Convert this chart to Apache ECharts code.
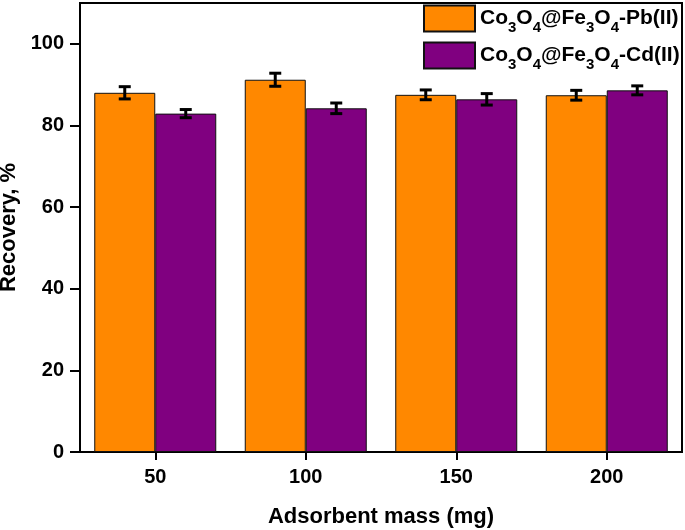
<!DOCTYPE html>
<html>
<head>
<meta charset="utf-8">
<script src="https://cdn.jsdelivr.net/npm/echarts@6/dist/echarts.min.js"></script>
<style>html,body{margin:0;padding:0;background:#fff;}#c{width:685px;height:530px;}</style>
</head>
<body>
<div id="c"></div>
<script>
// Data
var masses = [50, 100, 150, 200];
var seriesNames = ['Co3O4@Fe3O4-Pb(II)', 'Co3O4@Fe3O4-Cd(II)'];
var pbRecovery = [88.0, 91.2, 87.5, 87.4];
var pbError = [1.5, 1.6, 1.2, 1.2];
var cdRecovery = [82.9, 84.2, 86.4, 88.6];
var cdError = [1.0, 1.3, 1.4, 1.1];
var xTicks = [50, 100, 150, 200];
var yTicks = [0, 20, 40, 60, 80, 100];

var FONT = '"Liberation Sans", Arial, sans-serif';
var BAR_W = 61;

function pairs(xs, ys) { return xs.map(function (x, i) { return [x, ys[i]]; }); }
function errData(xs, ys, es) { return xs.map(function (x, i) { return [x, ys[i], es[i]]; }); }

function errRender(offset) {
  return function (params, api) {
    var x = api.value(0), y = api.value(1), e = api.value(2);
    var top = api.coord([x, y + e]);
    var bot = api.coord([x, y - e]);
    var cx = top[0] + offset;
    var half = 6;
    var st = { stroke: '#000', lineWidth: 3 };
    return {
      type: 'group',
      children: [
        { type: 'line', shape: { x1: cx, y1: top[1], x2: cx, y2: bot[1] }, style: st },
        { type: 'line', shape: { x1: cx - half, y1: top[1], x2: cx + half, y2: top[1] }, style: st },
        { type: 'line', shape: { x1: cx - half, y1: bot[1], x2: cx + half, y2: bot[1] }, style: st }
      ]
    };
  };
}

function legendFmt(name) {
  return name.replace(/([A-Za-z])(\d)/g, '$1{s|$2}');
}

var chart = echarts.init(document.getElementById('c'), null, { renderer: 'canvas' });
chart.setOption({
  animation: false,
  backgroundColor: '#fff',
  grid: { left: 80, right: 3, top: 3, bottom: 78, containLabel: false, outerBoundsMode: 'none', show: true, borderColor: '#000', borderWidth: 2, backgroundColor: 'transparent' },
  legend: {
    orient: 'vertical',
    left: 423, top: 2,
    padding: 0,
    itemGap: 4,
    itemWidth: 51, itemHeight: 26,
    icon: 'rect',
    data: seriesNames,
    formatter: legendFmt,
    textStyle: {
      fontFamily: FONT, fontWeight: 'bold', fontSize: 21, color: '#000', lineHeight: 24,
      rich: {
        s: { fontFamily: FONT, fontWeight: 'bold', fontSize: 15, color: '#000', lineHeight: 15, padding: [18, 0, 0, 0] }
      }
    }
  },
  xAxis: {
    type: 'value',
    min: 25, max: 225,
    name: 'Adsorbent mass (mg)',
    nameLocation: 'middle',
    nameGap: 54,
    nameTextStyle: { fontFamily: FONT, fontWeight: 'bold', fontSize: 22, color: '#000' },
    splitLine: { show: false },
    axisLine: { lineStyle: { color: '#000', width: 2 } },
    axisTick: { show: true, length: 8, lineStyle: { color: '#000', width: 2 }, customValues: xTicks },
    axisLabel: { fontFamily: FONT, fontWeight: 'bold', fontSize: 20, color: '#000', margin: 15, customValues: xTicks }
  },
  yAxis: {
    type: 'value',
    min: 0, max: 110,
    name: 'Recovery, %',
    nameLocation: 'middle',
    nameGap: 58,
    nameTextStyle: { fontFamily: FONT, fontWeight: 'bold', fontSize: 22, color: '#000' },
    splitLine: { show: false },
    axisLine: { show: true, lineStyle: { color: '#000', width: 2 } },
    axisTick: { show: true, length: 10, lineStyle: { color: '#000', width: 2 }, customValues: yTicks },
    axisLabel: { fontFamily: FONT, fontWeight: 'bold', fontSize: 20, color: '#000', margin: 16, customValues: yTicks }
  },
  series: [
    {
      name: seriesNames[0], type: 'bar', barWidth: BAR_W, barGap: '0%',
      data: pairs(masses, pbRecovery),
      itemStyle: { color: '#FF8800', borderColor: '#111', borderWidth: 1 }
    },
    {
      name: seriesNames[1], type: 'bar', barWidth: BAR_W, barGap: '0%',
      data: pairs(masses, cdRecovery),
      itemStyle: { color: '#800080', borderColor: '#111', borderWidth: 1 }
    },
    {
      type: 'custom', renderItem: errRender(-BAR_W / 2), data: errData(masses, pbRecovery, pbError), z: 5, silent: true
    },
    {
      type: 'custom', renderItem: errRender(BAR_W / 2), data: errData(masses, cdRecovery, cdError), z: 5, silent: true
    }
  ]
});
</script>
</body>
</html>
